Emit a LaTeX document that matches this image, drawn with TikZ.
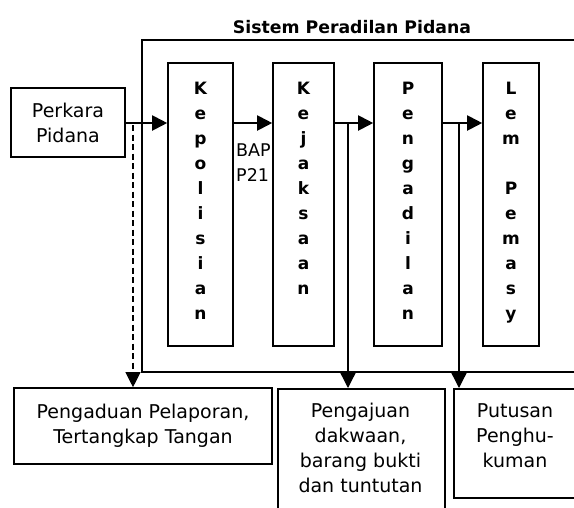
\documentclass[tikz,border=0pt]{standalone}
\usepackage{fontspec}
\setmainfont{DejaVu Sans}
\usetikzlibrary{arrows.meta}
\tikzset{
  box/.style={draw, line width=1.6pt, rectangle, inner sep=0pt},
  txt/.style={align=center, inner sep=0pt, font=\fontsize{19}{25}\selectfont},
  vtxt/.style={align=center, inner sep=0pt, anchor=north, font=\bfseries\fontsize{17}{25}\selectfont},
  harr/.style={line width=2pt, -{Triangle[length=15pt,width=15pt]}},
  varr/.style={line width=1.3pt, -{Triangle[length=15pt,width=15pt]}},
  darr/.style={line width=1.1pt, dash pattern=on 6pt off 3.5pt, -{Triangle[length=15pt,width=15pt]}},
}
\begin{document}
\begin{tikzpicture}[x=1pt,y=-1pt]
\useasboundingbox (0,0) rectangle (574,507);
\clip (0,0) rectangle (574,507);
% outer frame
\node[box, anchor=north west, minimum width=450pt, minimum height=332pt] (sys) at (141,39) {};
\node[anchor=base, inner sep=0pt, font=\bfseries\fontsize{17.3}{20}\selectfont] (title) at (352,33) {Sistem Peradilan Pidana};
% input box
\node[box, txt, minimum width=114pt, minimum height=69pt] (perkara) at (68,122.5) {Perkara\\Pidana};
% column boxes
\node[box, minimum width=65pt, minimum height=283pt] (kep) at (200.5,204.5) {};
\node[box, minimum width=61pt, minimum height=283pt] (kej) at (303.5,204.5) {};
\node[box, minimum width=68pt, minimum height=283pt] (pen) at (408,204.5) {};
\node[box, minimum width=56pt, minimum height=283pt] (lem) at (511,204.5) {};
\node[vtxt] (keptxt) at (200.5,81.5) {K\\e\\p\\o\\l\\i\\s\\i\\a\\n};
\node[vtxt] (kejtxt) at (303.5,81.5) {K\\e\\j\\a\\k\\s\\a\\a\\n};
\node[vtxt] (pentxt) at (408,81.5) {P\\e\\n\\g\\a\\d\\i\\l\\a\\n};
\node[vtxt] (lemtxt) at (511,81.5) {L\\e\\m\\~\\P\\e\\m\\a\\s\\y};
% BAP label
\node[anchor=north west, align=left, inner sep=0pt, font=\fontsize{17.5}{25}\selectfont] (bap) at (236,144) {BAP\\P21};
% bottom boxes
\node[box, txt, minimum width=258pt, minimum height=76pt] (pengaduan) at (143,426) {Pengaduan Pelaporan,\\Tertangkap Tangan};
\node[box, anchor=north west, minimum width=167pt, minimum height=140pt] (pengajuan) at (277,388) {};
\node[txt, anchor=north] (pjtxt) at (360.5,403) {Pengajuan\\dakwaan,\\barang bukti\\dan tuntutan};
\node[box, anchor=north west, minimum width=124pt, minimum height=109pt] (putusan) at (453,388) {};
\node[txt, anchor=north] (puttxt) at (515,403) {Putusan\\Penghu-\\kuman};
% connectors
\coordinate (ay) at (0,123);
\coordinate (dy) at (0,125);
\coordinate (dx) at (133,0);
\coordinate (kx) at (348,0);
\coordinate (px) at (459,0);
\draw[harr] (perkara.east |- ay) -- (kep.west |- ay);
\draw[harr] (kep.east |- ay) -- (kej.west |- ay);
\draw[harr] (kej.east |- ay) -- (pen.west |- ay);
\draw[harr] (pen.east |- ay) -- (lem.west |- ay);
\draw[darr] (dx |- dy) -- (dx |- pengaduan.north);
\draw[varr] (kx |- ay) -- (kx |- pengajuan.north);
\draw[varr] (px |- ay) -- (px |- putusan.north);
\end{tikzpicture}
\end{document}
